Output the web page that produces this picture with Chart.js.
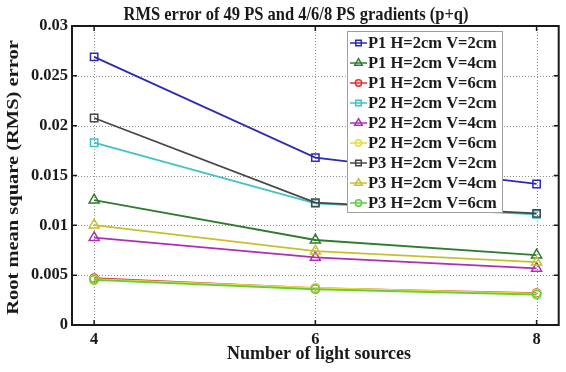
<!DOCTYPE html>
<html>
<head>
<meta charset="utf-8">
<script src="https://cdn.jsdelivr.net/npm/chart.js@4.4.1/dist/chart.umd.min.js"></script>
<style>
  html, body { margin: 0; padding: 0; background: #fff; }
  #wrap { width: 566px; height: 372px; }
</style>
</head>
<body>
<div id="wrap"><canvas id="rmsChart" width="566" height="372"></canvas></div>
<script>
// number of light sources on the x axis
const lightSources = [4, 6, 8];

// RMS error, one array per curve
const p1V2 = [0.0269, 0.0168, 0.01415];
const p1V4 = [0.01254, 0.00853, 0.00702];
const p1V6 = [0.0047, 0.0037, 0.0032];
const p2V2 = [0.01829, 0.01221, 0.0111];
const p2V4 = [0.00876, 0.00679, 0.00569];
const p2V6 = [0.0046, 0.00372, 0.00315];
const p3V2 = [0.02077, 0.01227, 0.0112];
const p3V4 = [0.01003, 0.00742, 0.0063];
const p3V6 = [0.00452, 0.00358, 0.00305];

const seriesNames = [
    'P1 H=2cm V=2cm', 'P1 H=2cm V=4cm', 'P1 H=2cm V=6cm',
    'P2 H=2cm V=2cm', 'P2 H=2cm V=4cm', 'P2 H=2cm V=6cm',
    'P3 H=2cm V=2cm', 'P3 H=2cm V=4cm', 'P3 H=2cm V=6cm'
];
const seriesValues = [p1V2, p1V4, p1V6, p2V2, p2V4, p2V6, p3V2, p3V4, p3V6];

const yTicks = [0, 0.005, 0.01, 0.015, 0.02, 0.025, 0.03];
const yTickLabels = ['0', '0.005', '0.01', '0.015', '0.02', '0.025', '0.03'];
const xTickLabels = ['4', '6', '8'];

const chartTitle = 'RMS error of 49 PS and 4/6/8 PS gradients (p+q)';
const xTitle = 'Number of light sources';
const yTitle = 'Root mean square (RMS) error';

const colors = ['#2b2bb3', '#2e7d2e', '#e03232', '#3fc3c6', '#b02eb4',
                '#e6dc3c', '#474747', '#c6c02c', '#5ccf3c'];
const markers = ['rect', 'triangle', 'circle', 'rect', 'triangle', 'circle', 'rect', 'triangle', 'circle'];
const markerSize = { rect: 5.2, triangle: 5.8, circle: 4.2 };

const serif = '"Liberation Serif", "Times New Roman", serif';
const ink = '#1a1a1a';

function drawMarker(ctx, style, x, y, color, scale) {
    ctx.save();
    ctx.strokeStyle = color;
    ctx.lineWidth = 1.5;
    ctx.beginPath();
    const r = markerSize[style] * scale;
    if (style === 'rect') {
        const s = r * Math.SQRT1_2;
        ctx.rect(x - s, y - s, 2 * s, 2 * s);
    } else if (style === 'triangle') {
        for (let k = 0; k < 3; k++) {
            const a = -Math.PI / 2 + k * 2 * Math.PI / 3;
            const px = x + r * Math.cos(a), py = y + r * Math.sin(a);
            if (k === 0) ctx.moveTo(px, py); else ctx.lineTo(px, py);
        }
        ctx.closePath();
    } else {
        ctx.arc(x, y, r, 0, Math.PI * 2);
    }
    ctx.stroke();
    ctx.restore();
}

const decorPlugin = {
    id: 'decor',
    beforeDatasetsDraw(chart) {
        // dotted grid, matlab style
        const ctx = chart.ctx;
        const a = chart.chartArea;
        const xs = chart.scales.x, ys = chart.scales.y;
        ctx.save();
        ctx.strokeStyle = '#8c8c8c';
        ctx.lineWidth = 1;
        ctx.setLineDash([1, 2]);
        ctx.beginPath();
        yTicks.forEach(v => {
            const y = Math.round(ys.getPixelForValue(v)) + 0.5;
            ctx.moveTo(a.left, y); ctx.lineTo(a.right, y);
        });
        lightSources.forEach(v => {
            const x = Math.round(xs.getPixelForValue(v)) + 0.5;
            ctx.moveTo(x, a.top); ctx.lineTo(x, a.bottom);
        });
        ctx.stroke();
        ctx.restore();
    },
    afterDraw(chart) {
        const ctx = chart.ctx;
        const a = chart.chartArea;
        const xs = chart.scales.x, ys = chart.scales.y;

        // box and inward ticks
        ctx.save();
        ctx.strokeStyle = ink;
        ctx.lineWidth = 2;
        ctx.strokeRect(a.left, a.top, a.right - a.left, a.bottom - a.top);
        ctx.lineWidth = 1.5;
        ctx.beginPath();
        yTicks.forEach(v => {
            const y = ys.getPixelForValue(v);
            ctx.moveTo(a.left, y); ctx.lineTo(a.left + 5, y);
            ctx.moveTo(a.right, y); ctx.lineTo(a.right - 5, y);
        });
        lightSources.forEach(v => {
            const x = xs.getPixelForValue(v);
            ctx.moveTo(x, a.bottom); ctx.lineTo(x, a.bottom - 5);
            ctx.moveTo(x, a.top); ctx.lineTo(x, a.top + 5);
        });
        ctx.stroke();
        ctx.restore();

        // titles
        ctx.save();
        ctx.fillStyle = ink;
        ctx.textAlign = 'center';
        ctx.textBaseline = 'alphabetic';
        ctx.font = 'bold 16.5px ' + serif;
        ctx.save();
        ctx.translate(296, 19.5);
        ctx.scale(1, 1.15);
        ctx.fillText(chartTitle, 0, 0);
        ctx.restore();
        ctx.font = 'bold 18px ' + serif;
        ctx.fillText(xTitle, 319, 358.5);
        ctx.font = 'bold 16px ' + serif;
        ctx.translate(14, (a.top + a.bottom) / 2 + 2);
        ctx.rotate(-Math.PI / 2);
        ctx.scale(1.28, 1);
        ctx.textBaseline = 'middle';
        ctx.fillText(yTitle, 0, 0);
        ctx.restore();

        // legend
        const lx = 347, ly = 31, lw = 155, lh = 181, row = 20;
        ctx.save();
        ctx.fillStyle = '#fff';
        ctx.fillRect(lx, ly, lw, lh);
        ctx.strokeStyle = '#a0a0a0';
        ctx.lineWidth = 1;
        ctx.strokeRect(lx + 0.5, ly + 0.5, lw, lh);
        ctx.font = 'bold 16.5px ' + serif;
        ctx.textBaseline = 'middle';
        ctx.textAlign = 'left';
        chart.data.datasets.forEach((ds, i) => {
            const y = ly + 12 + i * row;
            ctx.strokeStyle = ds.borderColor;
            ctx.lineWidth = 1.5;
            ctx.beginPath();
            ctx.moveTo(lx + 3, y); ctx.lineTo(lx + 20, y);
            ctx.stroke();
            drawMarker(ctx, ds.pointStyle, lx + 11.5, y, ds.borderColor, 0.75);
            ctx.fillStyle = ink;
            ctx.fillText(ds.label, lx + 21, y + 1);
        });
        ctx.restore();
    }
};

const datasets = seriesValues.map((vals, i) => ({
    label: seriesNames[i],
    data: vals.map((v, k) => ({ x: lightSources[k], y: v })),
    borderColor: colors[i],
    backgroundColor: colors[i],
    pointBorderColor: colors[i],
    pointBackgroundColor: 'rgba(0,0,0,0)',
    pointStyle: markers[i],
    pointRadius: markerSize[markers[i]],
    pointBorderWidth: 1.5,
    borderWidth: 1.8,
    tension: 0,
    fill: false,
    order: 8 - i
}));

new Chart(document.getElementById('rmsChart'), {
    type: 'line',
    data: { datasets },
    options: {
        responsive: false,
        animation: false,
        layout: { padding: { top: 26, right: 1, left: 0, bottom: 0 } },
        plugins: {
            legend: { display: false },
            title: { display: false },
            tooltip: { enabled: false }
        },
        scales: {
            x: {
                type: 'linear',
                min: 3.8,
                max: 8.2,
                afterBuildTicks: scale => { scale.ticks = lightSources.map(v => ({ value: v })); },
                afterFit: scale => { scale.height = 47; },
                ticks: {
                    padding: 5,
                    color: ink,
                    font: { family: serif, size: 16.5, weight: 'bold' },
                    callback: (v, idx) => xTickLabels[idx]
                },
                grid: { display: false, drawTicks: false },
                border: { display: false }
            },
            y: {
                min: 0,
                max: 0.03,
                afterBuildTicks: scale => { scale.ticks = yTicks.map(v => ({ value: v })); },
                afterFit: scale => { scale.width = 72; },
                ticks: {
                    padding: 4,
                    color: ink,
                    font: { family: serif, size: 16.5, weight: 'bold' },
                    callback: (v, idx) => yTickLabels[idx]
                },
                grid: { display: false, drawTicks: false },
                border: { display: false }
            }
        }
    },
    plugins: [decorPlugin]
});
</script>
</body>
</html>
